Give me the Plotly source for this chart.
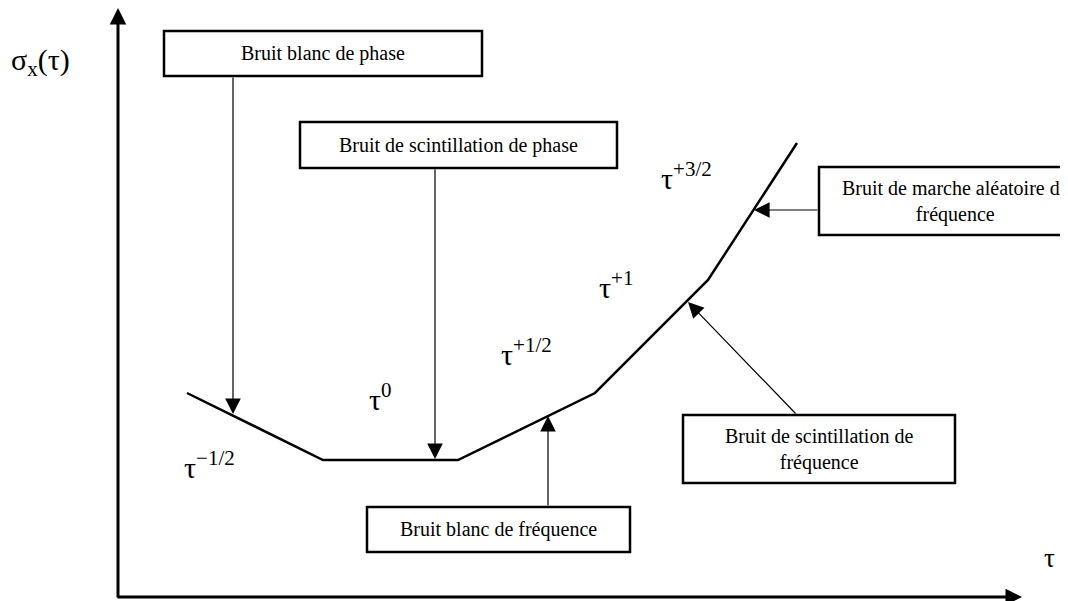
import plotly.graph_objects as go

# coudes de la courbe sigma_x(tau) (coordonnees du schema, y vers le bas)
tau_pts = [187, 323, 458, 595, 708, 797]
sigma_pts = [393, 460, 460, 393, 280, 143]

# pentes de chaque morceau
pentes = ["\u22121/2", "0", "+1/2", "+1", "+3/2"]
pente_x = [209, 380, 526, 616, 686]
pente_y = [465, 397, 352, 285, 176]

# types de bruit
bruits = [
    "Bruit blanc de phase",
    "Bruit de scintillation de phase",
    "Bruit blanc de fréquence",
    "Bruit de scintillation de<br>fréquence",
    "Bruit de marche aléatoire de<br>fréquence",
]
# cadre de chaque boite : x0, y0, x1, y1
cadres = [
    (164, 31, 482, 76),
    (300, 122, 617, 168),
    (367, 507, 630, 552),
    (683, 415, 955, 483),
    (819, 167, 1092, 235),
]
# fleche : pointe sur la courbe, depart sur la boite
pointes = [(233, 414), (435, 459), (548, 416), (688, 302), (754, 210)]
departs = [(233, 76), (435, 168), (548, 507), (797, 415), (819, 210)]

police = "Liberation Serif, Times New Roman, serif"

# la page html garde une marge de 8 px autour de la figure
marge_page = 8

fig = go.Figure()

fig.add_trace(go.Scatter(x=tau_pts, y=sigma_pts, mode="lines",
                         line=dict(color="black", width=2.5),
                         hoverinfo="skip", showlegend=False))

# axes fleches
fig.add_annotation(x=118, y=8, ax=118, ay=599, xref="x", yref="y", axref="x", ayref="y",
                   text="", showarrow=True, arrowhead=2, arrowsize=1.1, arrowwidth=3,
                   arrowcolor="black", standoff=0)
fig.add_annotation(x=1022, y=597, ax=116, ay=597, xref="x", yref="y", axref="x", ayref="y",
                   text="", showarrow=True, arrowhead=2, arrowsize=1.1, arrowwidth=3,
                   arrowcolor="black", standoff=0)

fig.add_annotation(x=40, y=62, xref="x", yref="y", text="σ<sub>x</sub>(τ)", showarrow=False,
                   font=dict(family=police, size=30, color="black"))
fig.add_annotation(x=1049, y=558, xref="x", yref="y", text="τ", showarrow=False,
                   font=dict(family=police, size=27, color="black"))

for p, px, py in zip(pentes, pente_x, pente_y):
    fig.add_annotation(x=px, y=py, xref="x", yref="y", text="τ<sup>" + p + "</sup>",
                       showarrow=False, font=dict(family=police, size=30, color="black"))

for txt, (x0, y0, x1, y1), (tx, ty), (dx, dy) in zip(bruits, cadres, pointes, departs):
    fig.add_shape(type="rect", x0=x0, y0=y0, x1=x1, y1=y1, xref="x", yref="y",
                  line=dict(color="black", width=2.5), fillcolor="white", layer="above")
    fig.add_annotation(x=(x0 + x1) / 2, y=(y0 + y1) / 2, xref="x", yref="y", text=txt,
                       showarrow=False, font=dict(family=police, size=20, color="black"))
    fig.add_annotation(x=tx, y=ty, ax=dx, ay=dy, xref="x", yref="y", axref="x", ayref="y",
                       text="", showarrow=True, arrowhead=2, arrowsize=2.6, arrowwidth=1.2,
                       arrowcolor="black", standoff=0)

fig.update_layout(
    width=1068 - marge_page, height=601 - marge_page,
    margin=dict(l=0, r=0, t=0, b=0),
    paper_bgcolor="white", plot_bgcolor="white",
    xaxis=dict(range=[marge_page, 1068], visible=False, fixedrange=True),
    yaxis=dict(range=[601, marge_page], visible=False, fixedrange=True),
    showlegend=False,
)

fig.write_html("out.html")
